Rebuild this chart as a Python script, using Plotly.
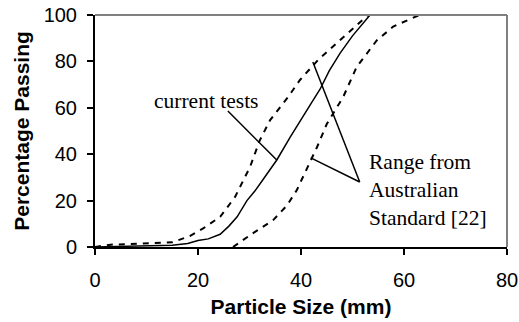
import plotly.graph_objects as go

# Current tests (solid)
tests_size = [0, 5, 10, 15, 18, 20, 22, 24.3, 26, 27.6, 29.5, 31, 32.6, 35.3, 37.9, 40.4, 42, 43.7, 45.5, 47.6, 50, 53.4]
tests_pass = [0, 0.3, 0.5, 0.8, 1.5, 2.8, 3.5, 5.5, 9, 13, 20, 24, 29, 37.5, 47.4, 56, 62, 68, 76, 83.6, 91, 100]

# Australian Standard range - fine bound (upper dashed)
fine_size = [0, 3, 6, 9, 12, 15, 18.4, 21, 24.3, 27.2, 30.1, 32, 34, 35.9, 37.5, 39.8, 43.3, 47, 50.9, 53]
fine_pass = [0, 1, 1.2, 1.5, 1.6, 2, 4.7, 8, 13, 21.6, 34.5, 46, 54.7, 60, 64.7, 72, 80.6, 88, 95.7, 100]

# Australian Standard range - coarse bound (lower dashed)
coarse_size = [26.8, 30.7, 34.6, 37.3, 39.2, 41.2, 43.1, 45, 47, 48.2, 50.8, 54.7, 57.9, 63]
coarse_pass = [0, 6, 11.6, 18, 24.6, 34, 43, 53, 60, 64.7, 77.6, 89, 95, 100]

x_ticks = [0, 20, 40, 60, 80]
y_ticks = [0, 20, 40, 60, 80, 100]

fig = go.Figure()
fig.add_trace(go.Scatter(x=fine_size, y=fine_pass, mode="lines",
                         line=dict(color="black", width=2, dash="6px,6px"), showlegend=False))
fig.add_trace(go.Scatter(x=coarse_size, y=coarse_pass, mode="lines",
                         line=dict(color="black", width=2, dash="6px,6px"), showlegend=False))
fig.add_trace(go.Scatter(x=tests_size, y=tests_pass, mode="lines",
                         line=dict(color="black", width=1.5), showlegend=False))

serif = dict(family="Liberation Serif, Times New Roman, serif", size=21.5, color="black")

# leader lines
fig.add_shape(type="line", x0=25.8, y0=58.6, x1=35.3, y1=37.5, line=dict(color="black", width=1.5))
fig.add_shape(type="line", x0=51.4, y0=28, x1=42.3, y1=79.7, line=dict(color="black", width=1.5))
fig.add_shape(type="line", x0=51.4, y0=28, x1=41.9, y1=38.4, line=dict(color="black", width=1.5))

fig.add_annotation(x=21.5, y=62.9, text="current tests", showarrow=False, font=serif,
                   xanchor="center", yanchor="middle")
fig.add_annotation(x=52.8, y=24.4, text="Range from<br>Australian<br>Standard [22]", showarrow=False,
                   font=serif, xanchor="left", yanchor="middle", align="left")

# gray top and right frame
fig.add_shape(type="line", xref="paper", yref="paper", x0=0, y0=1, x1=1, y1=1,
              line=dict(color="#808080", width=2))
fig.add_shape(type="line", xref="paper", yref="paper", x0=1, y0=0, x1=1, y1=1,
              line=dict(color="#808080", width=2))

fig.update_layout(
    width=519, height=322,
    margin=dict(l=95, r=12, t=15, b=75),
    paper_bgcolor="white", plot_bgcolor="white",
    font=dict(family="Liberation Sans, Arial, sans-serif", size=20, color="black"),
    xaxis=dict(range=[0, 80], tickvals=x_ticks, showgrid=False, zeroline=False,
               showline=True, linecolor="black", linewidth=2, automargin=False,
               ticks="outside", ticklen=6, tickwidth=2, tickcolor="black",
               ticklabelstandoff=8,
               title=dict(text="<b>Particle Size (mm)</b>", font=dict(size=21), standoff=9)),
    yaxis=dict(range=[0, 100], tickvals=y_ticks, showgrid=False, zeroline=False,
               showline=True, linecolor="black", linewidth=2, automargin=False,
               ticks="outside", ticklen=6, tickwidth=2, tickcolor="black",
               ticklabelstandoff=6,
               title=dict(text="<b>Percentage Passing</b>", font=dict(size=21), standoff=8)),
)

fig.write_html("out.html")
